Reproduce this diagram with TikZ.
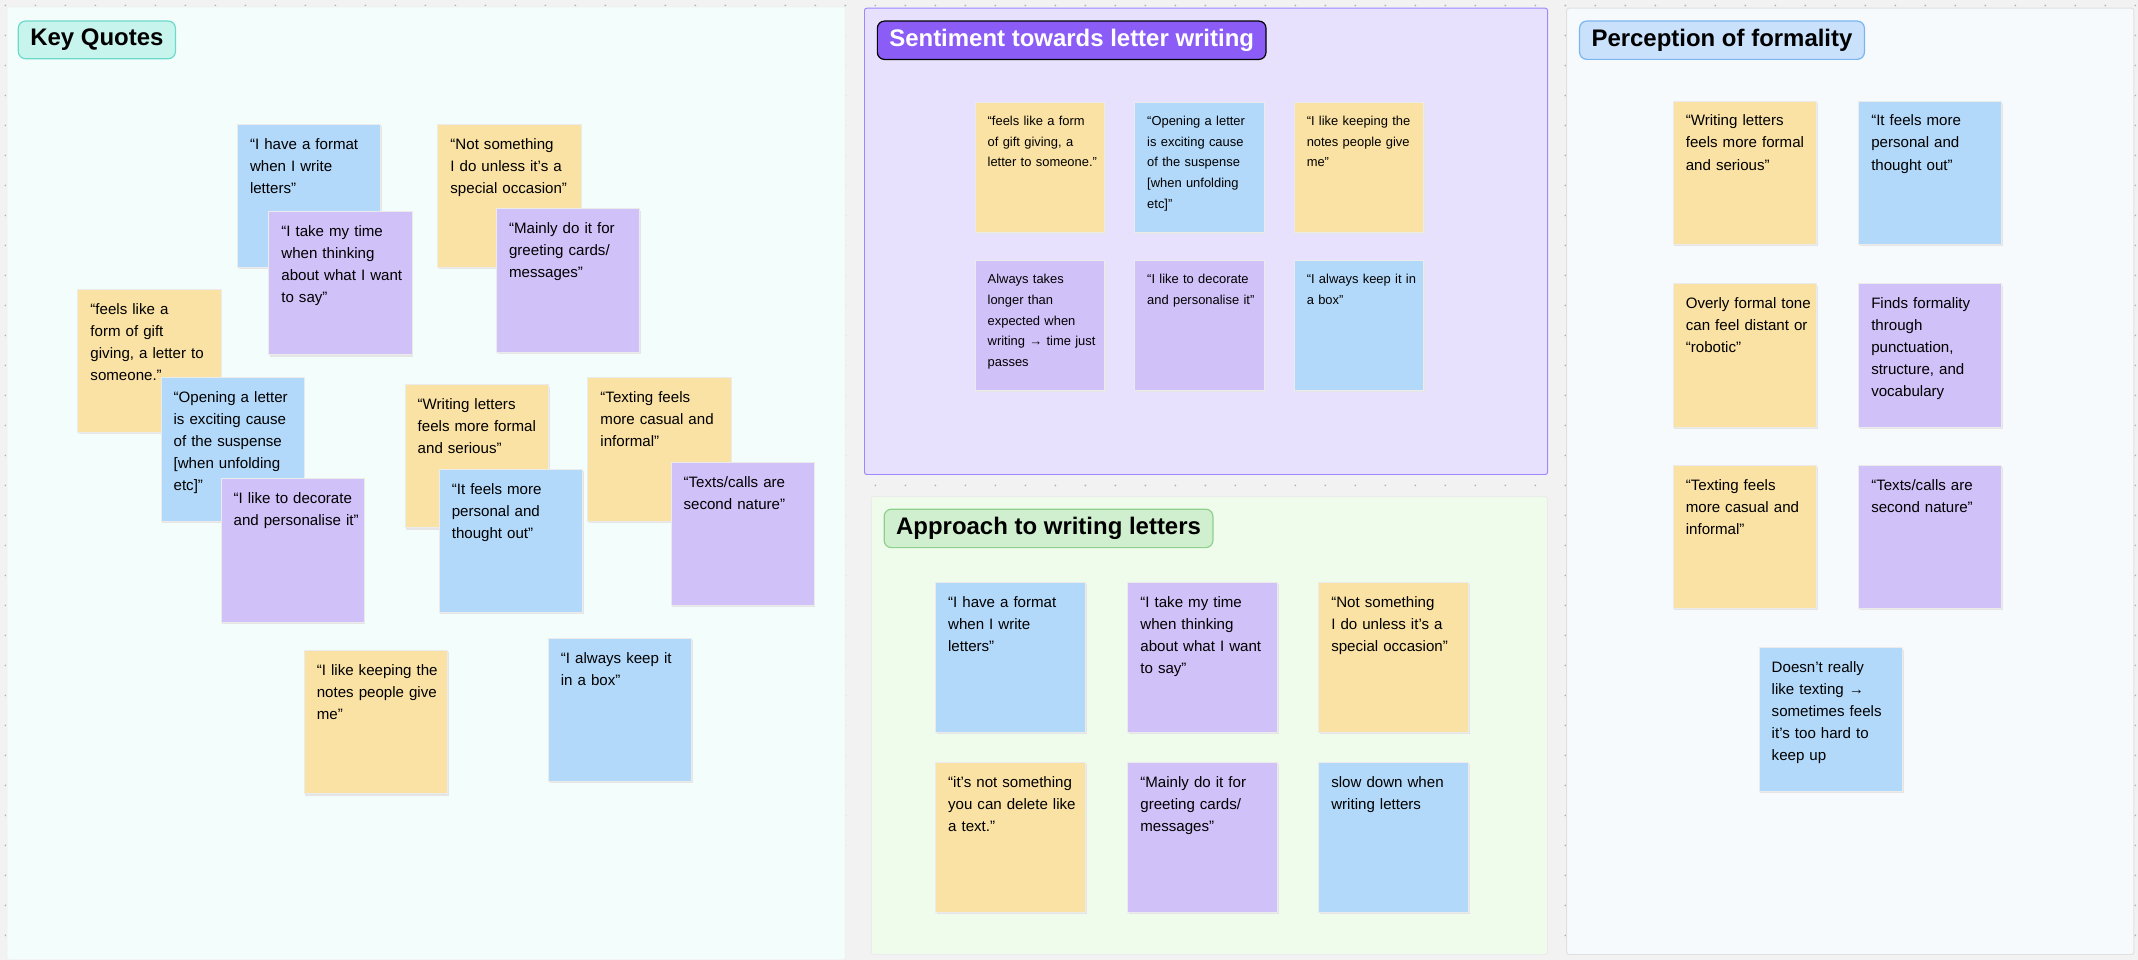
\documentclass[tikz,border=0pt]{standalone}
\usepackage{fontspec}
\setmainfont{Liberation Sans}
\usetikzlibrary{positioning}
\definecolor{bgc}{RGB}{242,242,242}
\definecolor{yel}{RGB}{250,226,164}
\definecolor{blu}{RGB}{179,217,250}
\definecolor{pur}{RGB}{209,193,249}
\definecolor{kqfill}{RGB}{243,254,252}
\definecolor{sefill}{RGB}{232,225,253}
\definecolor{seline}{RGB}{158,135,255}
\definecolor{apfill}{RGB}{239,252,236}
\definecolor{pefill}{RGB}{247,250,253}
\definecolor{kqtag}{RGB}{200,244,238}
\definecolor{kqline}{RGB}{108,217,201}
\definecolor{setag}{RGB}{139,92,246}
\definecolor{petag}{RGB}{201,225,251}
\definecolor{peline}{RGB}{122,181,240}
\definecolor{aptag}{RGB}{207,239,207}
\definecolor{apline}{RGB}{143,208,143}
\tikzset{%
  panel/.style = { draw=#1, line width=0.4pt, rounded corners=1pt },
  tag/.style = { anchor=north west, rounded corners=3pt, line width=0.5pt, inner xsep=5pt,
                 minimum height=0.54cm, font=\fontsize{10}{13}\selectfont\bfseries },
  notebox/.style = { draw=black!8, line width=0.2pt },
  notetext/.style = { anchor=north west, align=left, inner sep=0pt,
                      font=\fontsize{6.3}{9.2}\selectfont },
  smalltext/.style = { notetext, font=\fontsize{5.4}{8.6}\selectfont }
}
% \note{name}{colour}{x}{y}{size}{style}{text}
\newcommand{\note}[7]{%
  \fill[black!10] (#3+1,-#4-#5-1.5) rectangle (#3+#5+1,-#4-1.5);
  \draw[notebox, fill=#2] (#3,-#4) rectangle (#3+#5,-#4-#5);
  \node[#6, text width=(#5-13)*0.02cm] (#1) at (#3+9,-#4-10) {#7};
}
\begin{document}
\hyphenpenalty=10000
\exhyphenpenalty=10000
\begin{tikzpicture}[x=0.02cm, y=0.02cm]
  \fill[bgc] (0,0) rectangle (1568,-704);
  \useasboundingbox (0,0) rectangle (1568,-704);

  % dots
  \foreach \i in {0,...,71} {
    \foreach \j in {0,...,32} {
      \fill[black!30] (\i*22+4,-\j*22-4) circle (0.7);
    }
  }

  % Panels
  \draw[panel=black!6, fill=kqfill] (5,-5) rectangle (620,-704);
  \draw[panel=seline, fill=sefill] (634,-6) rectangle (1135,-348);
  \draw[panel=black!8, fill=apfill] (639,-364) rectangle (1135,-700);
  \draw[panel=black!12, fill=pefill] (1149,-6) rectangle (1565,-700);

  % Titles
  \node[tag, draw=kqline, fill=kqtag] (kqtitle) at (13,-15) {Key Quotes};
  \node[tag, draw=black, fill=setag, text=white] (setitle) at (643,-15) {Sentiment towards letter writing};
  \node[tag, draw=peline, fill=petag] (petitle) at (1158,-15) {Perception of formality};
  \node[tag, draw=apline, fill=aptag] (aptitle) at (648,-373) {Approach to writing letters};

  % Key quotes
  \note{kqa}{blu}{174}{91}{105}{notetext}{“I have a format when I write letters”}
  \note{kqb}{yel}{321}{91}{105}{notetext}{“Not something I do unless it’s a special occasion”}
  \note{kqc}{pur}{197}{155}{105}{notetext}{“I take my time when thinking about what I want to say”}
  \note{kqd}{pur}{364}{153}{105}{notetext}{“Mainly do it for greeting cards/ messages”}
  \note{kqe}{yel}{57}{212}{105}{notetext}{“feels like a form of gift giving, a letter to someone.”}
  \note{kqf}{blu}{118}{277}{105}{notetext}{“Opening a letter is exciting cause of the suspense [when unfolding etc]”}
  \note{kqg}{yel}{297}{282}{105}{notetext}{“Writing letters feels more formal and serious”}
  \note{kqh}{yel}{431}{277}{105}{notetext}{“Texting feels more casual and informal”}
  \note{kqi}{pur}{162}{351}{105}{notetext}{“I like to decorate and personalise it”}
  \note{kqj}{blu}{322}{344}{105}{notetext}{“It feels more personal and thought out”}
  \note{kqk}{pur}{492}{339}{105}{notetext}{“Texts/calls are second nature”}
  \note{kql}{yel}{223}{477}{105}{notetext}{“I like keeping the notes people give me”}
  \note{kqm}{blu}{402}{468}{105}{notetext}{“I always keep it in a box”}

  % Sentiment
  \note{sea}{yel}{715}{75}{95}{smalltext}{“feels like a form of gift giving, a letter to someone.”}
  \note{seb}{blu}{832}{75}{95}{smalltext}{“Opening a letter is exciting cause of the suspense [when unfolding etc]”}
  \note{sec}{yel}{949}{75}{95}{smalltext}{“I like keeping the notes people give me”}
  \note{sed}{pur}{715}{191}{95}{smalltext}{Always takes longer than expected when writing → time just passes}
  \note{see}{pur}{832}{191}{95}{smalltext}{“I like to decorate and personalise it”}
  \note{sef}{blu}{949}{191}{95}{smalltext}{“I always keep it in a box”}

  % Approach
  \note{apa}{blu}{686}{427}{110}{notetext}{“I have a format when I write letters”}
  \note{apb}{pur}{827}{427}{110}{notetext}{“I take my time when thinking about what I want to say”}
  \note{apc}{yel}{967}{427}{110}{notetext}{“Not something I do unless it’s a special occasion”}
  \note{apd}{yel}{686}{559}{110}{notetext}{“it’s not something you can delete like a text.”}
  \note{ape}{pur}{827}{559}{110}{notetext}{“Mainly do it for greeting cards/ messages”}
  \note{apf}{blu}{967}{559}{110}{notetext}{slow down when writing letters}

  % Perception
  \note{pea}{yel}{1227}{74}{105}{notetext}{“Writing letters feels more formal and serious”}
  \note{peb}{blu}{1363}{74}{105}{notetext}{“It feels more personal and thought out”}
  \note{pec}{yel}{1227}{208}{105}{notetext}{Overly formal tone can feel distant or “robotic”}
  \note{ped}{pur}{1363}{208}{105}{notetext}{Finds formality through punctuation, structure, and vocabulary}
  \note{pee}{yel}{1227}{341}{105}{notetext}{“Texting feels more casual and informal”}
  \note{pef}{pur}{1363}{341}{105}{notetext}{“Texts/calls are second nature”}
  \note{peg}{blu}{1290}{475}{105}{notetext}{Doesn’t really like texting → sometimes feels it’s too hard to keep up}
\end{tikzpicture}
\end{document}
